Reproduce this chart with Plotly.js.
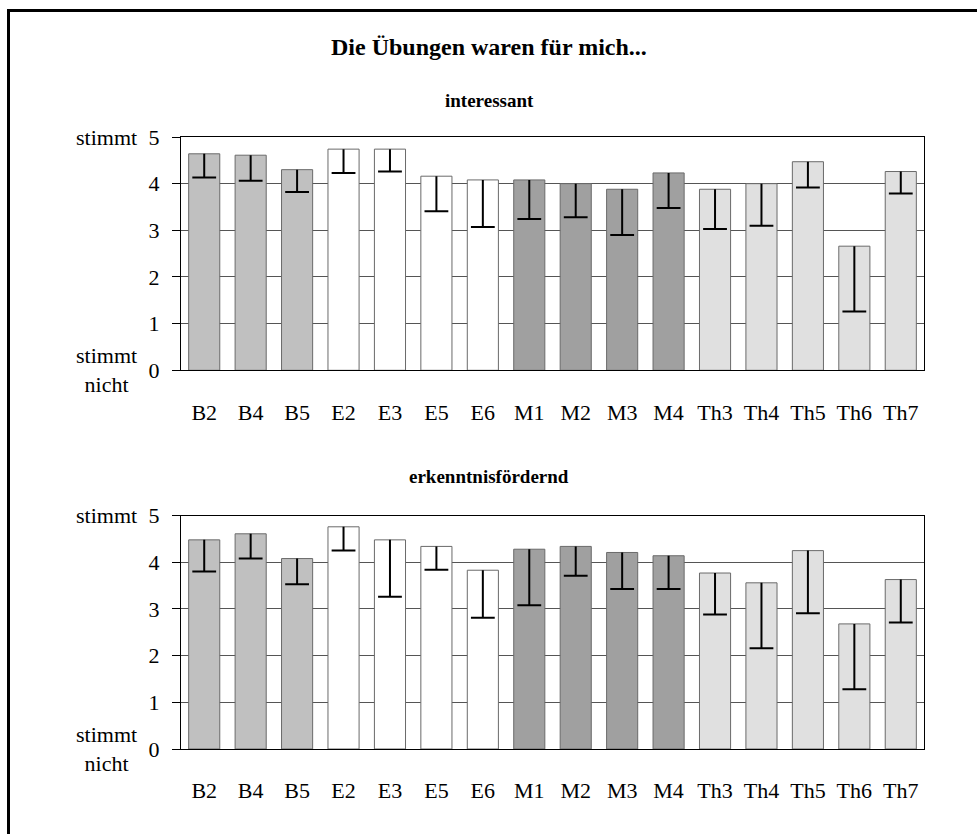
<!DOCTYPE html>
<html>
<head>
<meta charset="utf-8">
<script src="https://cdn.plot.ly/plotly-3.0.1.min.js"></script>
<style>
html, body { margin: 0; padding: 0; background: #fff; }
#frame { position: absolute; left: 0; top: 0; width: 977px; height: 834px; }
#border { position: absolute; left: 7px; top: 9px; width: 980px; height: 840px; border-left: 3px solid #000; border-top: 3px solid #000; pointer-events: none; }
#chart { position: absolute; left: 0; top: 0; width: 977px; height: 834px; }
</style>
</head>
<body>
<div id="frame">
  <div id="chart"></div>
  <div id="border"></div>
</div>
<script>
// Categories (exercises)
const categories = ["B2","B4","B5","E2","E3","E5","E6","M1","M2","M3","M4","Th3","Th4","Th5","Th6","Th7"];
// Group of each category (colour group)
const groups = ["B","B","B","E","E","E","E","M","M","M","M","Th","Th","Th","Th","Th"];

// "interessant" – mean values and lower end of error bar
const interessantMean  = [4.64, 4.61, 4.30, 4.74, 4.74, 4.16, 4.08, 4.08, 4.00, 3.88, 4.23, 3.88, 4.00, 4.47, 2.66, 4.26];
const interessantLower = [4.13, 4.06, 3.82, 4.23, 4.26, 3.41, 3.07, 3.24, 3.28, 2.90, 3.48, 3.03, 3.10, 3.92, 1.26, 3.79];

// "erkenntnisfördernd" – mean values and lower end of error bar
const erkenntnisMean  = [4.48, 4.61, 4.08, 4.76, 4.48, 4.34, 3.83, 4.28, 4.34, 4.21, 4.14, 3.77, 3.56, 4.25, 2.68, 3.63];
const erkenntnisLower = [3.80, 4.08, 3.53, 4.25, 3.26, 3.84, 2.81, 3.08, 3.71, 3.43, 3.43, 2.88, 2.16, 2.91, 1.28, 2.71];

const yTickVals = [0,1,2,3,4,5];
const yTickText = ["0","1","2","3","4","5"];

const groupColors = { B: "#c0c0c0", E: "#ffffff", M: "#a0a0a0", Th: "#e0e0e0" };
const barColors = groups.map(g => groupColors[g]);

const FONT = "Liberation Serif, Times New Roman, serif";

function barTrace(values, xa, ya) {
  return {
    type: "bar", x: categories, y: values, xaxis: xa, yaxis: ya,
    marker: { color: barColors, line: { color: "#6a6a6a", width: 1 } },
    hoverinfo: "x+y", showlegend: false
  };
}
function errTrace(means, lowers, xa, ya) {
  return {
    type: "scatter", mode: "markers", x: categories, y: lowers, xaxis: xa, yaxis: ya,
    marker: { symbol: "line-ew", size: 17, color: "#000", line: { color: "#000", width: 2 } },
    error_y: { type: "data", symmetric: false, array: means.map((m, i) => m - lowers[i]), arrayminus: lowers.map(() => 0),
               width: 0, thickness: 2, color: "#000" },
    hoverinfo: "skip", showlegend: false
  };
}

const data = [
  barTrace(interessantMean, "x", "y"),
  errTrace(interessantMean, interessantLower, "x", "y"),
  barTrace(erkenntnisMean, "x2", "y2"),
  errTrace(erkenntnisMean, erkenntnisLower, "x2", "y2")
];

const yaxisBase = {
  range: [0, 5], tickvals: yTickVals, ticktext: yTickText, ticks: "outside", ticklen: 8, tickwidth: 1, tickcolor: "#000",
  showline: true, linecolor: "#000", linewidth: 1, mirror: true,
  showgrid: true, gridcolor: "#555", gridwidth: 1, zeroline: false,
  tickfont: { family: FONT, size: 22, color: "#000" }, ticklabelstandoff: 8, fixedrange: true
};
const xaxisBase = {
  type: "category", range: [-0.5, categories.length - 0.5], autorange: false,
  showline: true, linecolor: "#000", linewidth: 1, mirror: true,
  ticks: "", showgrid: false, zeroline: false,
  tickfont: { family: FONT, size: 22, color: "#000" }, ticklabelstandoff: 22, fixedrange: true
};

const PX_L = 181, PX_R = 924, PX_T = 137, PX_B = 749;
const pw = PX_R - PX_L, ph = PX_B - PX_T;
const py = p => (PX_B - p) / ph;
const pxp = p => (p - PX_L) / pw;

const layout = {
  width: 977, height: 834,
  margin: { l: PX_L, r: 977 - PX_R, t: PX_T, b: 834 - PX_B, pad: 0 },
  paper_bgcolor: "rgba(0,0,0,0)", plot_bgcolor: "#fff",
  bargap: 0.33, showlegend: false,
  font: { family: FONT, color: "#000" },
  xaxis: Object.assign({}, xaxisBase, { anchor: "y", domain: [0, 1] }),
  yaxis: Object.assign({}, yaxisBase, { anchor: "x", domain: [py(370.3), 1] }),
  xaxis2: Object.assign({}, xaxisBase, { anchor: "y2", domain: [0, 1] }),
  yaxis2: Object.assign({}, yaxisBase, { anchor: "x2", domain: [0, py(515.6)] }),
  annotations: [
    { text: "<b>Die Übungen waren für mich...</b>", xref: "paper", yref: "paper", x: pxp(489), y: py(47),
      showarrow: false, xanchor: "center", yanchor: "middle", font: { family: FONT, size: 24, color: "#000" } },
    { text: "<b>interessant</b>", xref: "paper", yref: "paper", x: pxp(489), y: py(100),
      showarrow: false, xanchor: "center", yanchor: "middle", font: { family: FONT, size: 19, color: "#000" } },
    { text: "<b>erkenntnisfördernd</b>", xref: "paper", yref: "paper", x: pxp(489), y: py(476),
      showarrow: false, xanchor: "center", yanchor: "middle", font: { family: FONT, size: 19, color: "#000" } },
    { text: "stimmt", xref: "paper", yref: "y", x: pxp(139), y: 5, showarrow: false, xanchor: "right", yanchor: "middle",
      font: { family: FONT, size: 22, color: "#000" } },
    { text: "stimmt<br>nicht", xref: "paper", yref: "y", x: pxp(139), y: 0, showarrow: false, xanchor: "right", yanchor: "middle", align: "center",
      font: { family: FONT, size: 22, color: "#000" } },
    { text: "stimmt", xref: "paper", yref: "y2", x: pxp(139), y: 5, showarrow: false, xanchor: "right", yanchor: "middle",
      font: { family: FONT, size: 22, color: "#000" } },
    { text: "stimmt<br>nicht", xref: "paper", yref: "y2", x: pxp(139), y: 0, showarrow: false, xanchor: "right", yanchor: "middle", align: "center",
      font: { family: FONT, size: 22, color: "#000" } }
  ]
};

Plotly.newPlot("chart", data, layout, { displayModeBar: false, staticPlot: true });
</script>
</body>
</html>
